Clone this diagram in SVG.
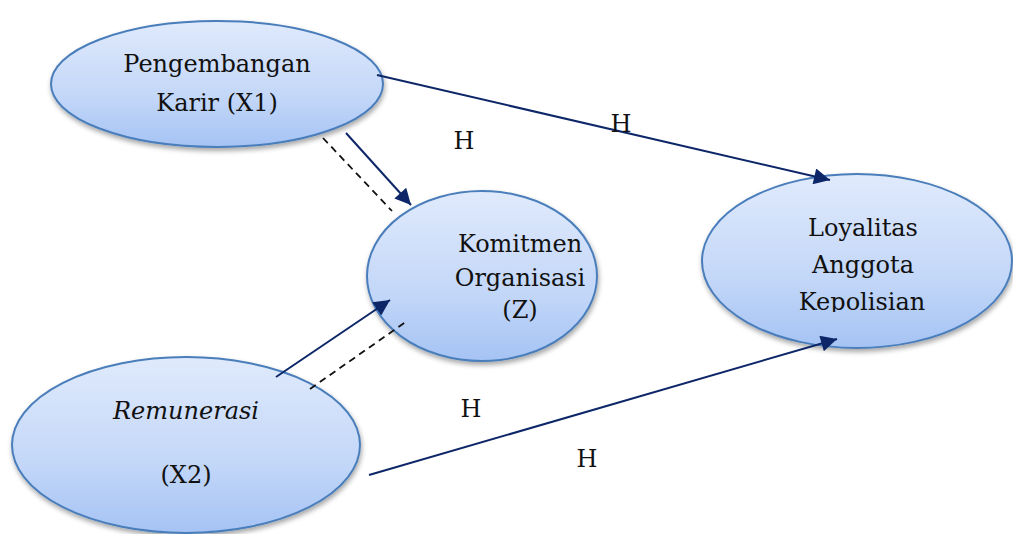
<svg xmlns="http://www.w3.org/2000/svg" width="1013" height="534" viewBox="0 0 1013 534">
<style>
.node ellipse{fill:url(#g);stroke:#4a7ebb;stroke-width:2;filter:url(#sh)}
text{font-family:"DejaVu Serif","Liberation Serif",serif;font-size:24px;fill:#111;text-anchor:middle}
.lbl{font-size:24px}
.arr{stroke:#0c2668;stroke-width:2;fill:none;marker-end:url(#ah)}
.dash{stroke:#111;stroke-width:1.8;stroke-dasharray:7,5;fill:none}
</style>
<defs>
<linearGradient id="g" x1="0" y1="0" x2="0" y2="1">
<stop offset="0" stop-color="#e0eafc"/>
<stop offset="0.6" stop-color="#c3d7f8"/>
<stop offset="1" stop-color="#a5c3f4"/>
</linearGradient>
<filter id="sh" x="-10%" y="-10%" width="125%" height="130%">
<feDropShadow dx="1" dy="3" stdDeviation="2.5" flood-color="#000" flood-opacity="0.35"/>
</filter>
<marker id="ah" viewBox="0 0 10 10" refX="10" refY="5" markerWidth="9.5" markerHeight="8" markerUnits="strokeWidth" orient="auto">
<path d="M0,0 L10,5 L0,10 z" fill="#0c2668"/>
</marker>
<clipPath id="clipK"><rect x="700" y="280" width="313" height="32"/></clipPath>
</defs>
<g id="node-x1" class="node">
<ellipse cx="217" cy="84" rx="166" ry="63"/>
<text x="217" y="72">Pengembangan</text>
<text x="217" y="111">Karir (X1)</text>
</g>
<g id="node-z" class="node">
<ellipse cx="482" cy="276" rx="115" ry="85"/>
<text x="520" y="252">Komitmen</text>
<text x="520" y="286">Organisasi</text>
<text x="520" y="318">(Z)</text>
</g>
<g id="node-y" class="node">
<ellipse cx="857" cy="261" rx="155" ry="87"/>
<text x="863" y="236">Loyalitas</text>
<text x="863" y="273">Anggota</text>
<text x="862" y="310" clip-path="url(#clipK)">Kepolisian</text>
</g>
<g id="node-x2" class="node">
<ellipse cx="186" cy="445" rx="174" ry="88"/>
<text x="186" y="419" font-style="italic">Remunerasi</text>
<text x="186" y="483">(X2)</text>
</g>
<g id="connectors">
<line class="arr" x1="377" y1="75" x2="830" y2="180"/>
<line class="arr" x1="346" y1="133" x2="411" y2="205"/>
<line class="dash" x1="323" y1="138" x2="392" y2="211"/>
<line class="arr" x1="276" y1="377" x2="390" y2="300"/>
<line class="dash" x1="310" y1="389" x2="407" y2="321"/>
<line class="arr" x1="369" y1="475" x2="837" y2="339"/>
</g>
<g id="labels">
<text class="lbl" x="464" y="149">H</text>
<text class="lbl" x="621" y="132">H</text>
<text class="lbl" x="471" y="417">H</text>
<text class="lbl" x="587" y="467">H</text>
</g>
</svg>
